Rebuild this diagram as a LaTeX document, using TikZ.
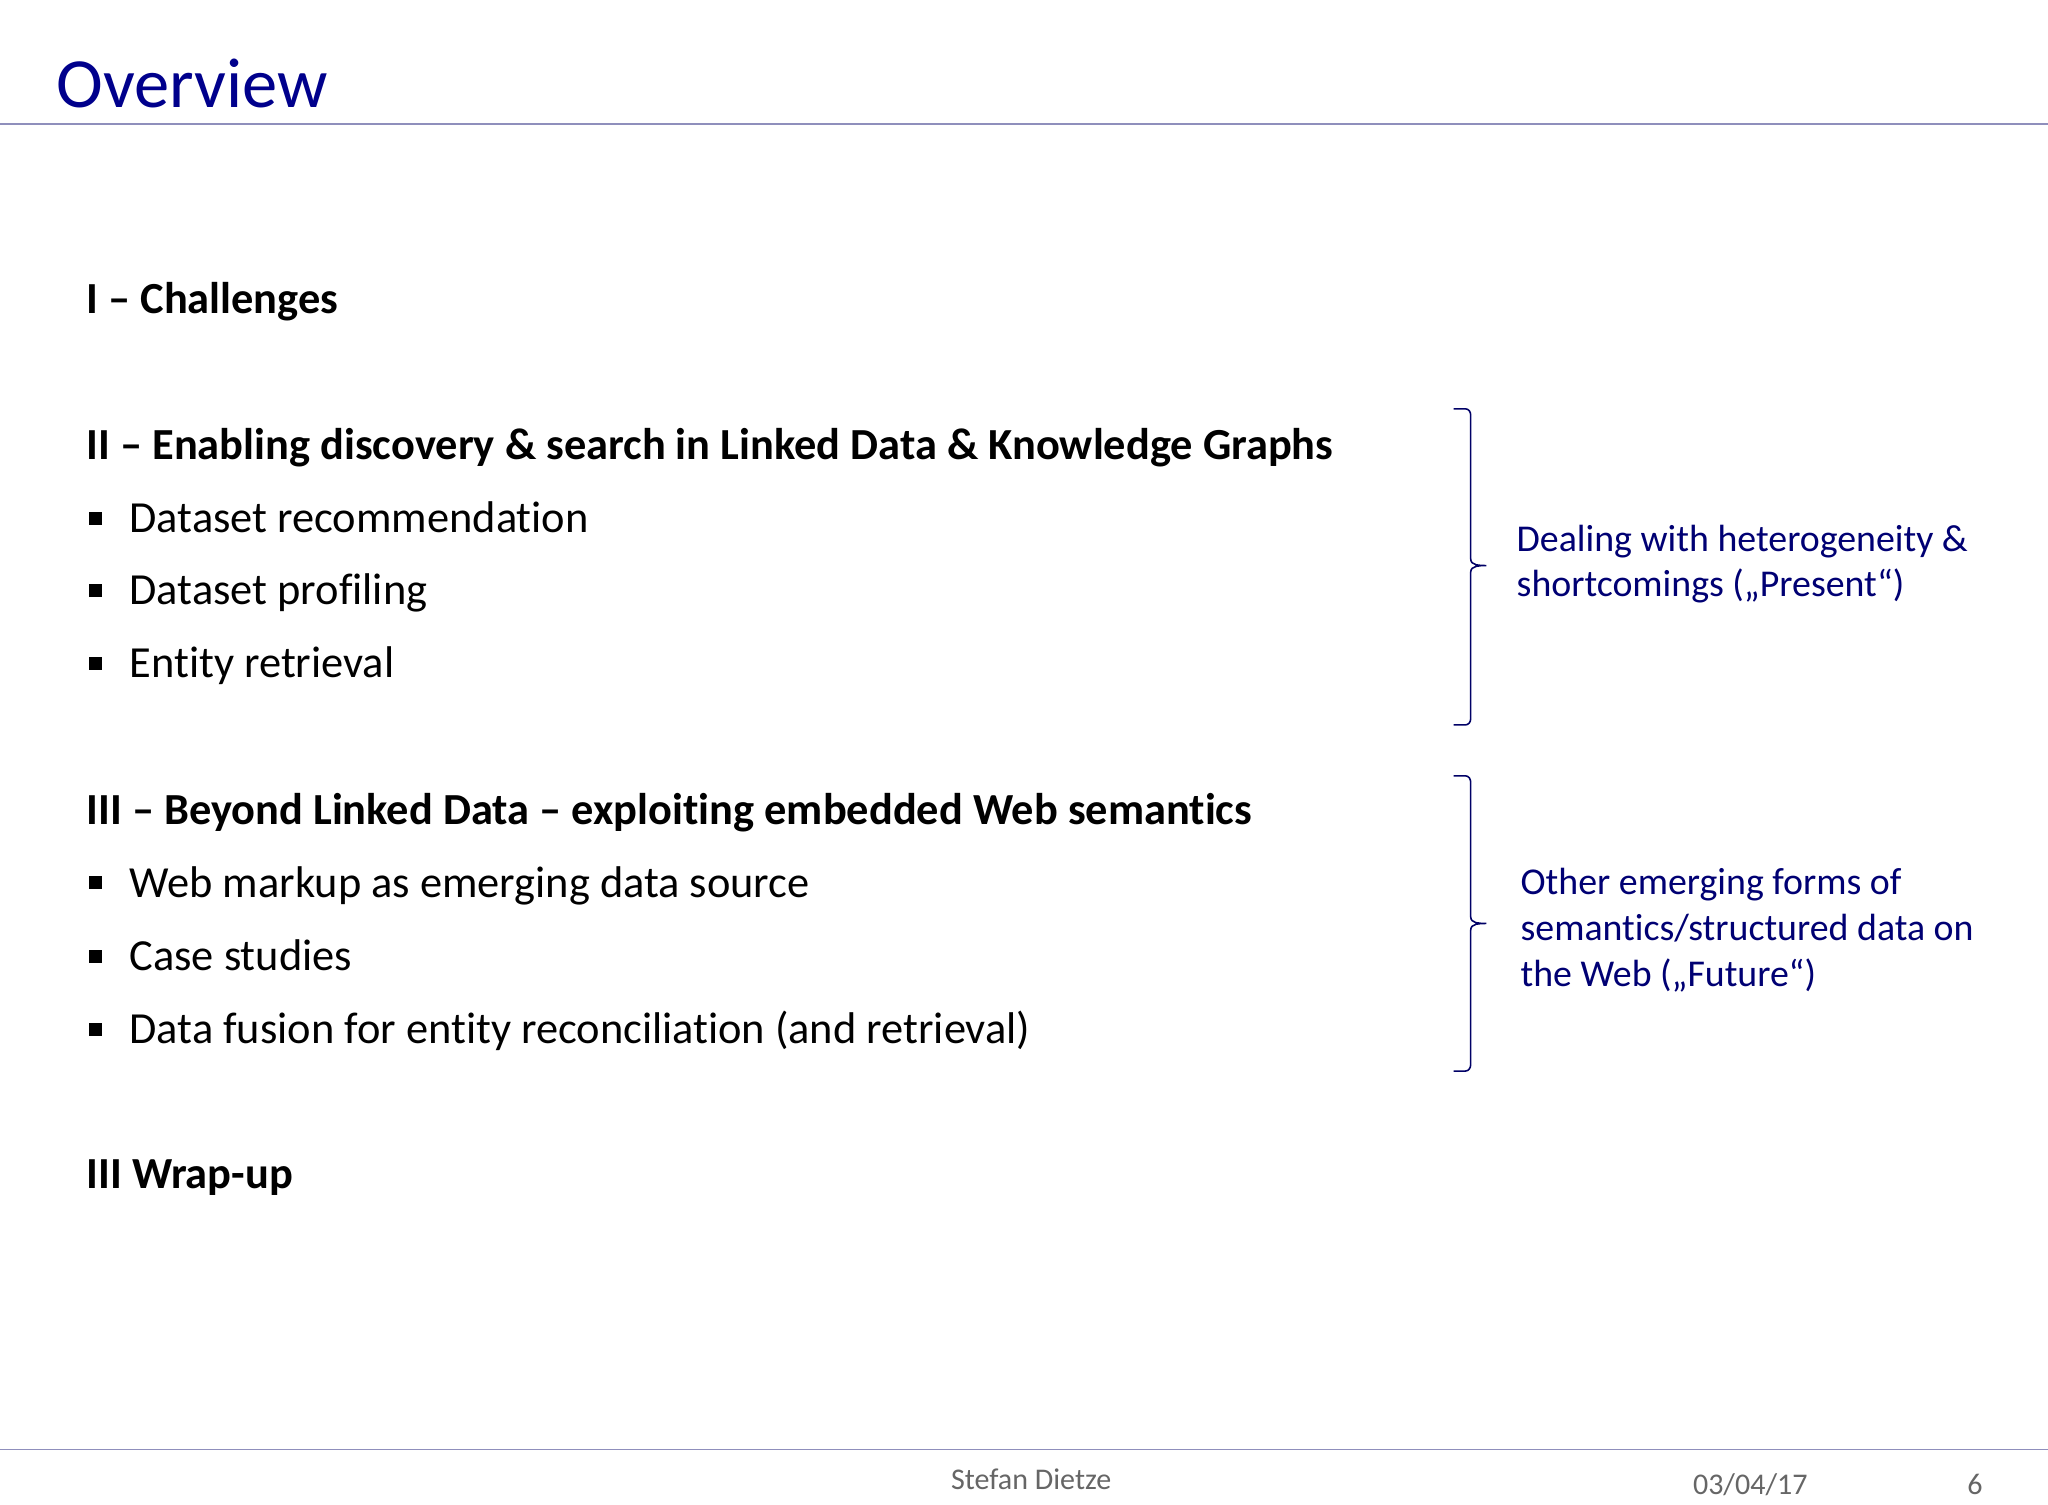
\documentclass[tikz,border=0pt]{standalone}
\usepackage{fontspec}
\setmainfont[Ligatures=NoCommon]{Carlito}
\begin{document}
\begin{tikzpicture}[x=1pt,y=-1pt,
  head/.style={anchor=base west,inner sep=0,font=\fontsize{34}{40}\selectfont\bfseries},
  item/.style={anchor=base west,inner sep=0,font=\fontsize{34}{40}\selectfont},
  note/.style={anchor=base west,inner sep=0,font=\fontsize{29}{34}\selectfont,text=blue!45!black},
  foot/.style={anchor=base west,inner sep=0,font=\fontsize{23}{26}\selectfont,text=gray!80!black},
  brace/.style={draw=blue!40!black,line width=1.2pt},
  rule/.style={draw=blue!25!gray!70,line width=1pt}]
\useasboundingbox (0,0) rectangle (1568,1152);
\node[anchor=base west,inner sep=0,font=\fontsize{54}{60}\selectfont,text=blue!55!black] (title) at (43,82) {Overview};
\draw[rule] (0,95) -- (1568,95);
\draw[rule] (0,1110) -- (1568,1110);
\node[head] (h1) at (66,240) {I – Challenges};
\node[head] (h2) at (66,352) {II – Enabling discovery \& search in Linked Data \& Knowledge Graphs};
\foreach \y/\t [count=\i] in {408/Dataset recommendation,463/Dataset profiling,519/Entity retrieval,687/Web markup as emerging data source,743/Case studies,799/Data fusion for entity reconciliation (and retrieval)}{
  \fill (68,\y-16) rectangle ++(10,10);
  \node[item] (it\i) at (99,\y) {\t};
}
\node[head] (h3) at (66,631) {III – Beyond Linked Data – exploiting embedded Web semantics};
\node[head] (h4) at (66,910) {III Wrap-up};
\draw[brace] (1113,313) -- (1122,313) to[out=0,in=90] (1126,318) -- (1126,428) to[out=-90,in=180] (1138,433) to[out=180,in=90] (1126,438) -- (1126,550) to[out=-90,in=0] (1122,555) -- (1113,555);
\draw[brace] (1113,594) -- (1122,594) to[out=0,in=90] (1126,599) -- (1126,702) to[out=-90,in=180] (1138,707) to[out=180,in=90] (1126,712) -- (1126,815) to[out=-90,in=0] (1122,820) -- (1113,820);
\node[note] (n1) at (1161,422) {Dealing with heterogeneity \&};
\node[note] (n2) at (1161,457) {shortcomings („Present“)};
\node[note] (n3) at (1164,685) {Other emerging forms of};
\node[note] (n4) at (1164,720) {semantics/structured data on};
\node[note] (n5) at (1164,755) {the Web („Future“)};
\node[foot] (f1) at (728,1140) {Stefan Dietze};
\node[foot] (f2) at (1296,1144) {03/04/17};
\node[foot] (f3) at (1506,1144) {6};
\end{tikzpicture}
\end{document}
